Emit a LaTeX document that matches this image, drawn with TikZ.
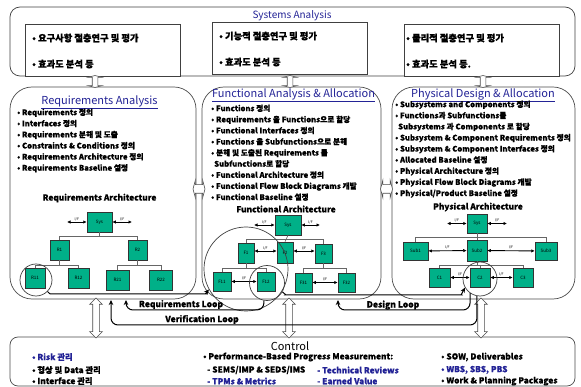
\documentclass[tikz,border=0pt]{standalone}
\usepackage{fontspec}
\setmainfont{Noto Sans CJK KR}[BoldFeatures={FakeBold=0.6}]
\usetikzlibrary{arrows.meta,shapes.arrows}
\definecolor{boxgreen}{RGB}{0,176,136}
\definecolor{titleblue}{RGB}{35,35,150}
\begin{document}
\begin{tikzpicture}[x=1pt,y=-1pt,
  bigbox/.style={draw=black!70, line width=0.7pt, rounded corners=22pt, fill=white, inner sep=0pt},
  sabox/.style={draw=black!75, line width=0.7pt, fill=white, inner sep=0pt},
  gbox/.style={draw=black!80, line width=0.5pt, fill=boxgreen, inner sep=0pt, font=\fontsize{4.5}{5}\selectfont},
  lst/.style={anchor=north west, align=left, inner sep=0pt, font=\fontsize{7.7}{11.1}\selectfont\bfseries},
  satxt/.style={anchor=west, inner sep=0pt, font=\fontsize{9.3}{10}\selectfont\bfseries},
  ttl/.style={text=titleblue, inner sep=0pt, font=\fontsize{11}{12}\selectfont},
  archt/.style={inner sep=0pt, font=\fontsize{8.3}{9}\selectfont\bfseries},
  ifa/.style={line width=0.9pt, {Latex[length=3.5pt,width=3.5pt]}-{Latex[length=3.5pt,width=3.5pt]}},
  ifl/.style={inner sep=0pt, font=\fontsize{3.5}{4}\selectfont, above=0.8pt},
  tline/.style={draw=black!60, line width=0.6pt},
  ring/.style={circle, draw=black!75, line width=0.7pt, inner sep=0pt},
  hol/.style={double arrow, draw=black!70, line width=0.6pt, fill=white, inner xsep=0pt, inner ysep=3pt, double arrow head extend=3pt, double arrow head indent=0pt},
  holshort/.style={hol, double arrow tip angle=150, minimum height=12pt},
  loopl/.style={line width=1pt, rounded corners=7pt, -{Stealth[length=5pt,width=4.5pt]}},
  loopt/.style={inner sep=0pt, font=\fontsize{8.5}{9}\selectfont\bfseries},
  ctl/.style={anchor=west, inner sep=0pt, font=\fontsize{8.3}{10}\selectfont\bfseries},
]
\useasboundingbox (0,0) rectangle (581,387);
% ---------- Systems Analysis ----------
\node[sabox, rounded corners=10pt, minimum width=565pt, minimum height=69pt] (sys) at (292.5,41.5) {};
\node[ttl, font=\fontsize{10}{11}\selectfont] (systtl) at (292,16) {Systems Analysis};
\node[sabox, minimum width=155pt, minimum height=52pt] (sa1) at (102.5,50) {};
\node[sabox, minimum width=155pt, minimum height=52pt] (sa2) at (289.5,48) {};
\node[sabox, minimum width=155pt, minimum height=52pt] (sa3) at (481.5,50) {};
\node[satxt] (s1a) at (32,38) {• 요구사항 절충연구 및 평가};
\node[satxt] (s1b) at (32,64) {• 효과도 분석 등};
\node[satxt] (s2a) at (219,36) {• 기능적 절충연구 및 평가};
\node[satxt] (s2b) at (219,62) {• 효과도 분석 등};
\node[satxt] (s3a) at (406,38) {• 물리적 절충연구 및 평가};
\node[satxt] (s3b) at (406,64) {• 효과도 분석 등.};
% ---------- three main boxes ----------
\node[bigbox, minimum width=186pt, minimum height=212pt] (req) at (103,193) {};
\node[bigbox, minimum width=179pt, minimum height=212pt] (fun) at (291.5,193) {};
\node[bigbox, minimum width=183pt, minimum height=212pt] (phy) at (483.5,193) {};
\node[bigbox, rounded corners=8pt, minimum width=565pt, minimum height=49pt] (ctrl) at (292.5,361.5) {};
% hollow double arrows
\node[holshort, rotate=90, inner ysep=2.5pt, double arrow head extend=4pt] (ha1) at (95,81.5) {};
\node[holshort, rotate=90, inner ysep=2.5pt, double arrow head extend=4pt] (ha2) at (290,81.5) {};
\node[holshort, rotate=90, inner ysep=2.5pt, double arrow head extend=4pt] (ha3) at (483,81.5) {};
\node[hol, rotate=90, minimum height=40pt] (hb1) at (96,318) {};
\node[hol, rotate=90, minimum height=40pt] (hb2) at (289,318) {};
\node[hol, rotate=90, minimum height=40pt] (hb3) at (481,318) {};
\node[holshort, inner ysep=4pt, double arrow head extend=4.5pt] (hc1) at (199,189) {};
\node[holshort, inner ysep=4pt, double arrow head extend=4.5pt] (hc2) at (386.5,189) {};
% ---------- titles ----------
\node[ttl] (reqttl) at (99.5,102) {\underline{Requirements Analysis}};
\node[ttl] (funttl) at (293.5,95) {\underline{Functional Analysis \& Allocation}};
\node[ttl] (phyttl) at (483,95) {\underline{Physical Design \& Allocation}};
% ---------- lists ----------
\node[lst] (reql) at (17,108.5) {• Requirements 정의\\• Interfaces 정의\\• Requirements 분해 및 도출\\• Constraints \& Conditions 정의\\• Requirements Architecture 정의\\• Requirements Baseline 설정};
\node[lst] (funl) at (211,104.5) {• Functions 정의\\• Requirements 을 Functions으로 할당\\• Functional Interfaces 정의\\• Functions 을 Subfunctions으로 분해\\• 분해 및 도출된 Requirements 를\\\hspace*{3pt}Subfunctions로 할당\\• Functional Architecture 정의\\• Functional Flow Block Diagrams 개발\\• Functional Baseline 설정};
\node[lst] (phyl) at (395,100.5) {• Subsystems and Components 정의\\• Functions과 Subfunctions를\\\hspace*{3pt}Subsystems 과 Components 로 할당\\• Subsystem \& Component Requirements 정의\\• Subsystem \& Component Interfaces 정의\\• Allocated Baseline 설정\\• Physical Architecture 정의\\• Physical Flow Block Diagrams 개발\\• Physical/Product Baseline 설정};
% ---------- Requirements architecture ----------
\node[archt] (reqat) at (99.5,198) {Requirements Architecture};
\node[gbox, minimum width=25pt, minimum height=20pt] (rs) at (99.5,222) {Sys};
\node[gbox, minimum width=19pt, minimum height=20pt] (r1) at (59.5,250) {R1};
\node[gbox, minimum width=19pt, minimum height=20pt] (r2) at (137.5,250) {R2};
\node[gbox, minimum width=20pt, minimum height=20pt] (r11) at (35,278) {R11};
\node[gbox, minimum width=21pt, minimum height=20pt] (r12) at (78.5,278) {R12};
\node[gbox, minimum width=23pt, minimum height=20pt] (r21) at (117.5,280) {R21};
\node[gbox, minimum width=23pt, minimum height=20pt] (r22) at (161,280) {R22};
\draw[tline] (rs.south) -- (rs.south |- 0,236);
\draw[tline] (r1.north) |- (r2.north |- 0,236) -- (r2.north);
\draw[tline] (r1.south) -- (r1.south |- 0,265);
\draw[tline] (r11.north) |- (r12.north |- 0,265) -- (r12.north);
\draw[tline] (r2.south) -- (r2.south |- 0,265);
\draw[tline] (r21.north) |- (r22.north |- 0,265) -- (r22.north);
\coordinate (rsl) at (67,222);
\coordinate (rsr) at (132,222);
\draw[ifa] (rsl) -- node[ifl] (rif1) {I/F} (rs.west);
\draw[ifa] (rs.east) -- node[ifl] (rif2) {I/F} (rsr);
% ---------- Functional architecture ----------
\node[archt] (funat) at (286,209) {Functional Architecture};
\node[gbox, minimum width=26pt, minimum height=20pt] (fs) at (288,225) {Sys};
\node[gbox, minimum width=16pt, minimum height=20pt] (f1) at (246,253) {F1};
\node[gbox, minimum width=16pt, minimum height=21pt] (f2) at (285,252.5) {F2};
\node[gbox, minimum width=17pt, minimum height=19pt] (f3) at (323.5,253.5) {F3};
\node[gbox, minimum width=18pt, minimum height=19pt] (f11) at (222,281.5) {F11};
\node[gbox, minimum width=18pt, minimum height=19pt] (f12) at (266,281.5) {F12};
\node[gbox, minimum width=17pt, minimum height=19pt] (f31) at (303.5,282.5) {F31};
\node[gbox, minimum width=17pt, minimum height=19pt] (f32) at (346.5,282.5) {F32};
\draw[tline] (fs.south) -- (f2.north);
\draw[tline] (f1.north) |- (f3.north |- 0,239) -- (f3.north);
\draw[tline] (f1.south) -- (f1.south |- 0,268);
\draw[tline] (f11.north) |- (f12.north |- 0,268) -- (f12.north);
\draw[tline] (f3.south) -- (f3.south |- 0,268);
\draw[tline] (f31.north) |- (f32.north |- 0,268) -- (f32.north);
\coordinate (fsl) at (254,225);
\coordinate (fsr) at (320,225);
\draw[ifa] (fsl) -- node[ifl] (fif1) {I/F} (fs.west);
\draw[ifa] (fs.east) -- node[ifl] (fif2) {I/F} (fsr);
\draw[ifa] (f1.east |- 0,251) -- node[ifl] (fif3) {I/F} (f2.west |- 0,251);
\draw[ifa] (f2.east |- 0,251) -- node[ifl] (fif4) {I/F} (f3.west |- 0,251);
\draw[ifa] (f11) -- node[ifl] (fif5) {I/F} (f12);
\draw[ifa] (f31) -- node[ifl] (fif6) {I/F} (f32);
% ---------- Physical architecture ----------
\node[archt] (phyat) at (478,207) {Physical Architecture};
\node[gbox, minimum width=20pt, minimum height=19pt] (ps) at (477,223.5) {Sys};
\node[gbox, minimum width=25pt, minimum height=18pt] (p1) at (415.5,251) {Sub1};
\node[gbox, minimum width=20pt, minimum height=21pt] (p2) at (477,250.5) {Sub2};
\node[gbox, minimum width=22pt, minimum height=18pt] (p3) at (546,251) {Sub3};
\node[gbox, minimum width=21pt, minimum height=19pt] (c1) at (439.5,277.5) {C1};
\node[gbox, minimum width=20pt, minimum height=19pt] (c2) at (480,277.5) {C2};
\node[gbox, minimum width=20pt, minimum height=19pt] (c3) at (523,277.5) {C3};
\draw[tline] (ps.south) -- (p2.north);
\draw[tline] (p1.north) |- (p3.north |- 0,237) -- (p3.north);
\draw[tline] (p2.south) -- (p2.south |- 0,265);
\draw[tline] (c1.north) |- (c3.north |- 0,265) -- (c3.north);
\draw[tline] (c2.north) -- (c2.north |- 0,265);
\coordinate (psl) at (447,223.5);
\coordinate (psr) at (507,223.5);
\draw[ifa] (psl) -- node[ifl] (pif1) {I/F} (ps.west);
\draw[ifa] (ps.east) -- node[ifl] (pif2) {I/F} (psr);
\draw[ifa] (p1) -- node[ifl] (pif3) {I/F} (p2);
\draw[ifa] (p2) -- node[ifl] (pif4) {I/F} (p3);
\draw[ifa] (c1) -- node[ifl] (pif5) {I/F} (c2);
\draw[ifa] (c2) -- node[ifl] (pif6) {I/F} (c3);
% ---------- circles ----------
\node[ring, minimum size=32pt] (cr11) at (36,280) {};
\node[ring, minimum size=84pt] (cfb) at (246,269) {};
\node[ring, minimum size=35pt] (cf12) at (267,283) {};
\node[ring, minimum size=34pt] (cc2) at (480,279) {};
% ---------- loops ----------
\draw[loopl] (cr11.-45) .. controls (50,294) .. (58,294) -- (200,294) .. controls (205,294) .. (cfb.-151);
\draw[loopl] (cf12.-30) .. controls (286,295) .. (292,295) -- (455,295) .. controls (461,295) .. (cc2.-150);
\draw[loopl] (cf12.-100) |- (126,310) -- (126,300);
\draw[loopl] (cc2.-125) |- (338,310) -- (338,300);
\draw[loopl] (cc2.-100) |- (111,325) -- (111,300);
\node[loopt] (rloop) at (181,304.5) {Requirements Loop};
\node[loopt] (dloop) at (393,305) {Design Loop};
\node[loopt] (vloop) at (202,319.5) {Verification Loop};
% ---------- Control ----------
\node[inner sep=0pt, font=\fontsize{11}{12}\selectfont] (ctltl) at (290,346) {Control};
\node[ctl, text=titleblue] (k1) at (32,357) {• Risk 관리};
\node[ctl] (k2) at (32,370) {• 형상 및 Data 관리};
\node[ctl] (k3) at (32,381) {• Interface 관리};
\node[ctl] (k4) at (203,357) {• Performance-Based Progress Measurement:};
\node[ctl] (k5) at (207,370) {- SEMS/IMP \& SEDS/IMS};
\node[ctl, text=titleblue] (k6) at (317,370) {- Technical Reviews};
\node[ctl, text=titleblue] (k7) at (207,381) {- TPMs \& Metrics};
\node[ctl, text=titleblue] (k8) at (317,381) {- Earned Value};
\node[ctl] (k9) at (441,357) {• SOW, Deliverables};
\node[ctl, text=titleblue] (k10) at (441,370) {• WBS, SBS, PBS};
\node[ctl] (k11) at (441,381) {• Work \& Planning Packages};
\end{tikzpicture}
\end{document}
